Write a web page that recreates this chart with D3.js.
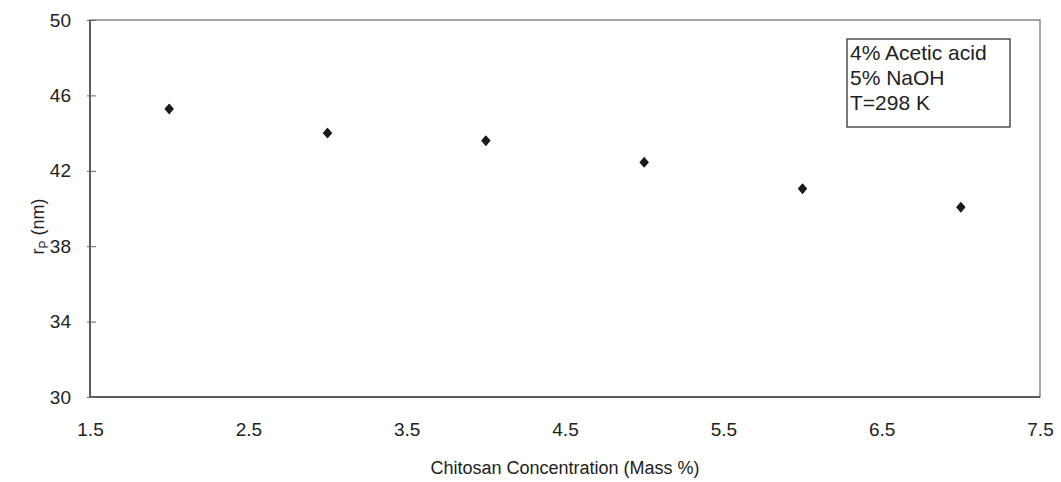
<!DOCTYPE html>
<html>
<head>
<meta charset="utf-8">
<script src="https://cdn.jsdelivr.net/npm/d3@7"></script>
<style>
  body { margin: 0; background: #fff; }
  text { font-family: "Liberation Sans", Arial, sans-serif; fill: #222; }
</style>
</head>
<body>
<svg id="chart"></svg>
<script>
const concentration = [2, 3, 4, 5, 6, 7];
const poreRadius = [45.28, 44.0, 43.6, 42.45, 41.05, 40.07];
const xTicks = [1.5, 2.5, 3.5, 4.5, 5.5, 6.5, 7.5];
const yTicks = [30, 34, 38, 42, 46, 50];
const legendLines = ['4% Acetic acid', '5% NaOH', 'T=298 K'];

const width = 1061;
const height = 482;
const margin = { top: 20, right: 21, bottom: 85, left: 90 };

const svg = d3.select('#chart')
  .attr('width', width)
  .attr('height', height);

const x = d3.scaleLinear()
  .domain([1.5, 7.5])
  .range([margin.left, width - margin.right]);

const y = d3.scaleLinear()
  .domain([30, 50])
  .range([height - margin.bottom, margin.top]);

// plot frame: top/right lighter, left/bottom darker like the scan
svg.append('rect')
  .attr('x', x(1.5))
  .attr('y', y(50))
  .attr('width', x(7.5) - x(1.5))
  .attr('height', y(30) - y(50))
  .attr('fill', 'none')
  .attr('stroke', '#777')
  .attr('stroke-width', 1.3);

svg.append('path')
  .attr('d', `M${x(1.5)},${y(50)}V${y(30)}H${x(7.5)}`)
  .attr('fill', 'none')
  .attr('stroke', '#444')
  .attr('stroke-width', 1.5);

// y axis
const yAxis = svg.append('g')
  .attr('transform', `translate(${x(1.5)},0)`)
  .call(d3.axisLeft(y).tickValues(yTicks).tickSize(4).tickFormat(d3.format('d')));
yAxis.select('.domain').remove();
yAxis.selectAll('.tick line').attr('x1', -3).attr('x2', 6).attr('stroke', '#666');
yAxis.selectAll('.tick text')
  .attr('x', -19)
  .style('font-size', '19px')
  .style('font-family', '"Liberation Sans", Arial, sans-serif')
  .attr('fill', '#222');

// x axis
const xAxis = svg.append('g')
  .attr('transform', `translate(0,${y(30)})`)
  .call(d3.axisBottom(x).tickValues(xTicks).tickSize(0).tickFormat(d3.format('.1f')));
xAxis.select('.domain').remove();
xAxis.selectAll('.tick text')
  .attr('y', 26)
  .style('font-size', '19px')
  .style('font-family', '"Liberation Sans", Arial, sans-serif')
  .attr('fill', '#222');

// axis titles
svg.append('text')
  .attr('x', (x(1.5) + x(7.5)) / 2)
  .attr('y', 474)
  .attr('text-anchor', 'middle')
  .style('font-size', '18px')
  .text('Chitosan Concentration (Mass %)');

const yTitle = svg.append('text')
  .attr('transform', `translate(44,${(y(30) + y(50)) / 2 + 18}) rotate(-90)`)
  .attr('text-anchor', 'middle')
  .style('font-size', '18px');
yTitle.append('tspan').text('r');
yTitle.append('tspan').attr('dy', 4).style('font-size', '12px').text('P');
yTitle.append('tspan').attr('dy', -4).text(' (nm)');

// rounded-ish diamond marker
const diamond = {
  draw(context, size) {
    const w = Math.sqrt(size) * 0.5;
    const h = w * 1.15;
    context.moveTo(0, -h);
    context.lineTo(w, 0);
    context.lineTo(0, h);
    context.lineTo(-w, 0);
    context.closePath();
  }
};

svg.append('g')
  .selectAll('path')
  .data(concentration)
  .join('path')
  .attr('d', d3.symbol(diamond, 64))
  .attr('transform', (d, i) => `translate(${x(d)},${y(poreRadius[i])})`)
  .attr('fill', '#1a1a1a')
  .attr('stroke', '#1a1a1a')
  .attr('stroke-width', 1.2)
  .attr('stroke-linejoin', 'round');

// legend box
const legend = svg.append('g').attr('transform', 'translate(847,39)');
legend.append('rect')
  .attr('width', 163)
  .attr('height', 88)
  .attr('fill', '#fff')
  .attr('stroke', '#333')
  .attr('stroke-width', 1.3);
legend.selectAll('text')
  .data(legendLines)
  .join('text')
  .attr('x', 3)
  .attr('y', (d, i) => 21 + i * 25)
  .style('font-size', '21px')
  .text(d => d);
</script>
</body>
</html>
